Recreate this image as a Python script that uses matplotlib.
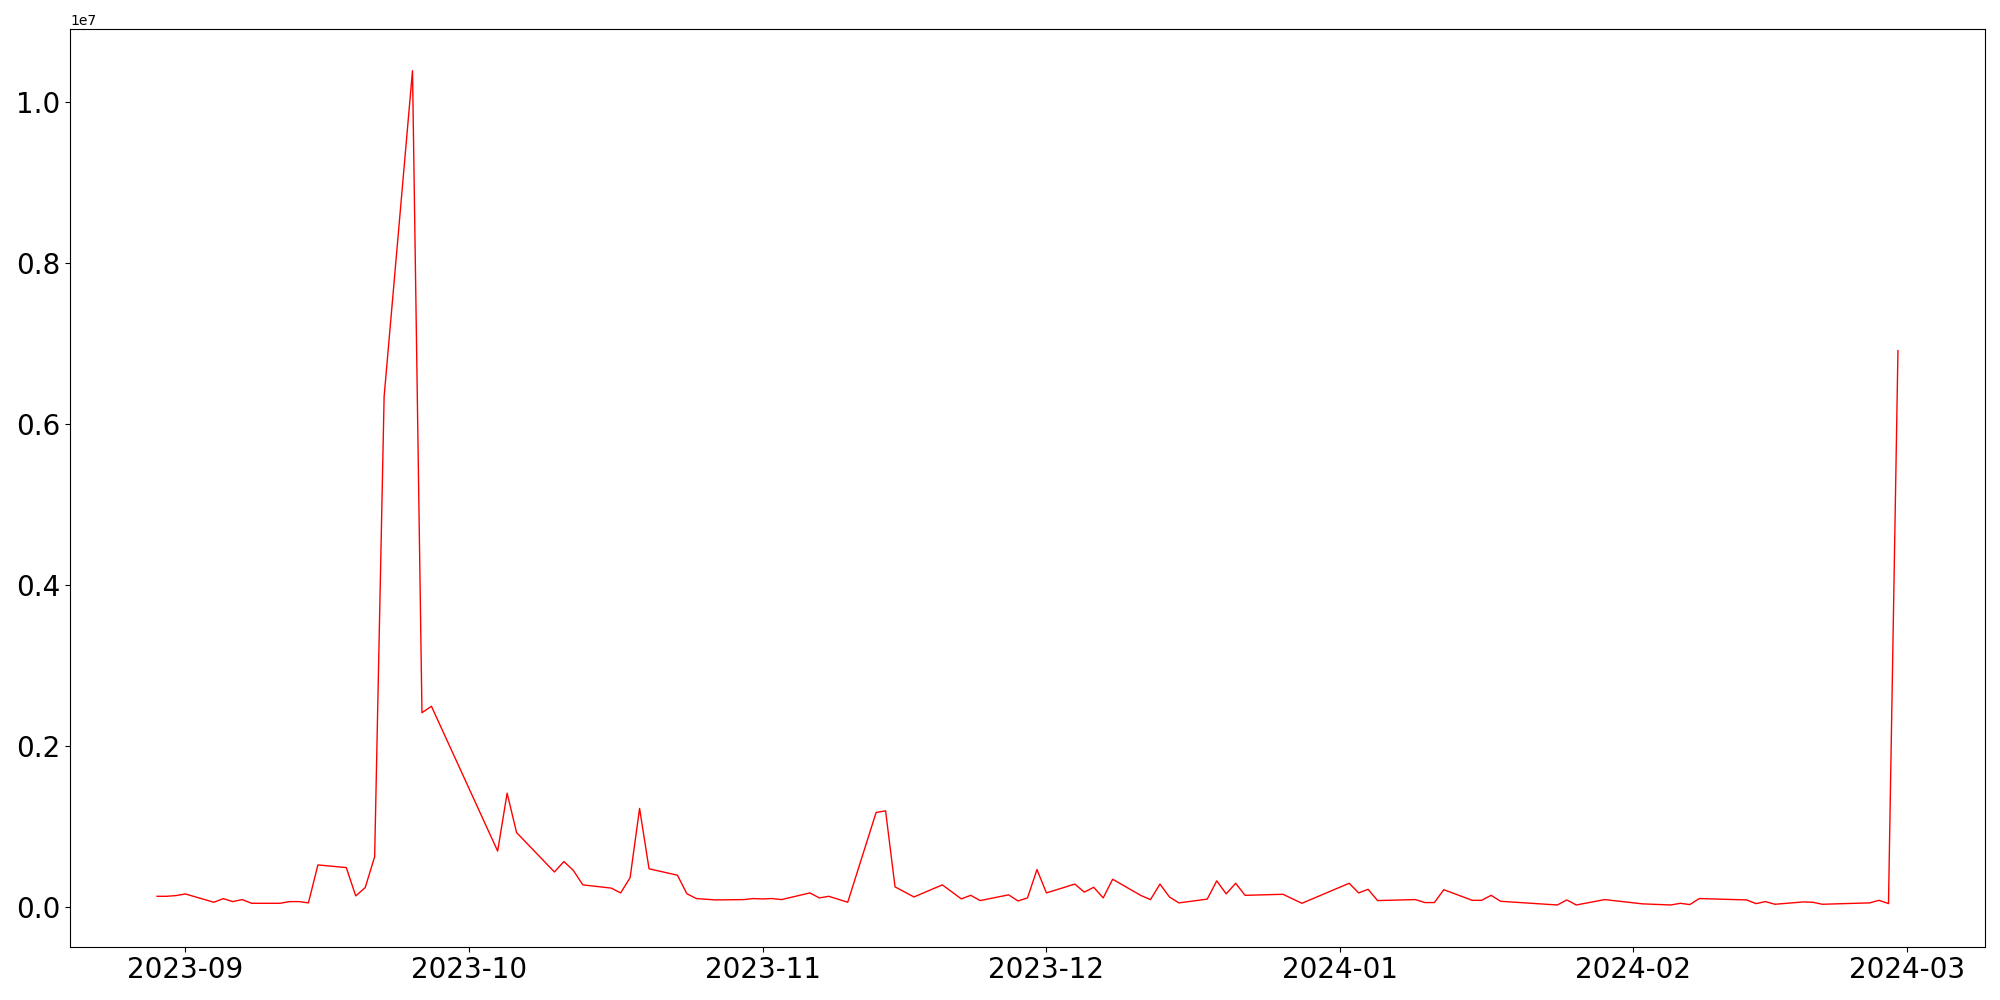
import matplotlib
matplotlib.use("Agg")
import matplotlib.pyplot as plt
import pandas as pd

dates = [
    "2023-08-29", "2023-08-30", "2023-08-31", "2023-09-01", "2023-09-04", "2023-09-05",
    "2023-09-06", "2023-09-07", "2023-09-08", "2023-09-11", "2023-09-12", "2023-09-13",
    "2023-09-14", "2023-09-15", "2023-09-18", "2023-09-19", "2023-09-20", "2023-09-21",
    "2023-09-22", "2023-09-25", "2023-09-26", "2023-09-27", "2023-10-04", "2023-10-05",
    "2023-10-06", "2023-10-10", "2023-10-11", "2023-10-12", "2023-10-13", "2023-10-16",
    "2023-10-17", "2023-10-18", "2023-10-19", "2023-10-20", "2023-10-23", "2023-10-24",
    "2023-10-25", "2023-10-27", "2023-10-30", "2023-10-31", "2023-11-01", "2023-11-02",
    "2023-11-03", "2023-11-06", "2023-11-07", "2023-11-08", "2023-11-10", "2023-11-13",
    "2023-11-14", "2023-11-15", "2023-11-17", "2023-11-20", "2023-11-22", "2023-11-23",
    "2023-11-24", "2023-11-27", "2023-11-28", "2023-11-29", "2023-11-30", "2023-12-01",
    "2023-12-04", "2023-12-05", "2023-12-06", "2023-12-07", "2023-12-08", "2023-12-11",
    "2023-12-12", "2023-12-13", "2023-12-14", "2023-12-15", "2023-12-18", "2023-12-19",
    "2023-12-20", "2023-12-21", "2023-12-22", "2023-12-26", "2023-12-28", "2024-01-02",
    "2024-01-03", "2024-01-04", "2024-01-05", "2024-01-09", "2024-01-10", "2024-01-11",
    "2024-01-12", "2024-01-15", "2024-01-16", "2024-01-17", "2024-01-18", "2024-01-24",
    "2024-01-25", "2024-01-26", "2024-01-29", "2024-02-02", "2024-02-05", "2024-02-06",
    "2024-02-07", "2024-02-08", "2024-02-13", "2024-02-14", "2024-02-15", "2024-02-16",
    "2024-02-19", "2024-02-20", "2024-02-21", "2024-02-26", "2024-02-27", "2024-02-28",
    "2024-02-29",
]

values_millions = [
    0.128, 0.128, 0.137, 0.157, 0.054, 0.099,
    0.062, 0.087, 0.041, 0.041, 0.062, 0.062,
    0.046, 0.518, 0.485, 0.133, 0.236, 0.62,
    6.34, 10.39, 2.41, 2.49, 0.69, 1.41,
    0.92, 0.43, 0.56, 0.45, 0.27, 0.23,
    0.17, 0.36, 1.22, 0.47, 0.39, 0.16,
    0.10, 0.083, 0.087, 0.10, 0.095, 0.10,
    0.087, 0.17, 0.108, 0.128, 0.054, 1.17,
    1.19, 0.245, 0.12, 0.27, 0.096, 0.14,
    0.075, 0.146, 0.07, 0.108, 0.46, 0.17,
    0.28, 0.18, 0.24, 0.108, 0.34, 0.137,
    0.087, 0.28, 0.12, 0.046, 0.093, 0.32,
    0.158, 0.29, 0.14, 0.153, 0.041, 0.29,
    0.17, 0.215, 0.075, 0.087, 0.05, 0.05,
    0.21, 0.078, 0.078, 0.14, 0.066, 0.02,
    0.083, 0.02, 0.087, 0.034, 0.02, 0.041,
    0.025, 0.10, 0.083, 0.037, 0.062, 0.029,
    0.058, 0.054, 0.029, 0.046, 0.078, 0.037,
    6.91,
]

x = pd.to_datetime(dates)
y = [v * 1e6 for v in values_millions]

fig = plt.figure(figsize=(20, 10), dpi=100)
ax = fig.add_subplot(111)
ax.plot(x, y, color="red", linewidth=1.0)
ax.tick_params(axis="both", labelsize=20)
fig.subplots_adjust(left=0.035, right=0.9925, top=0.971, bottom=0.0533)
fig.savefig("out.png", dpi=100)
